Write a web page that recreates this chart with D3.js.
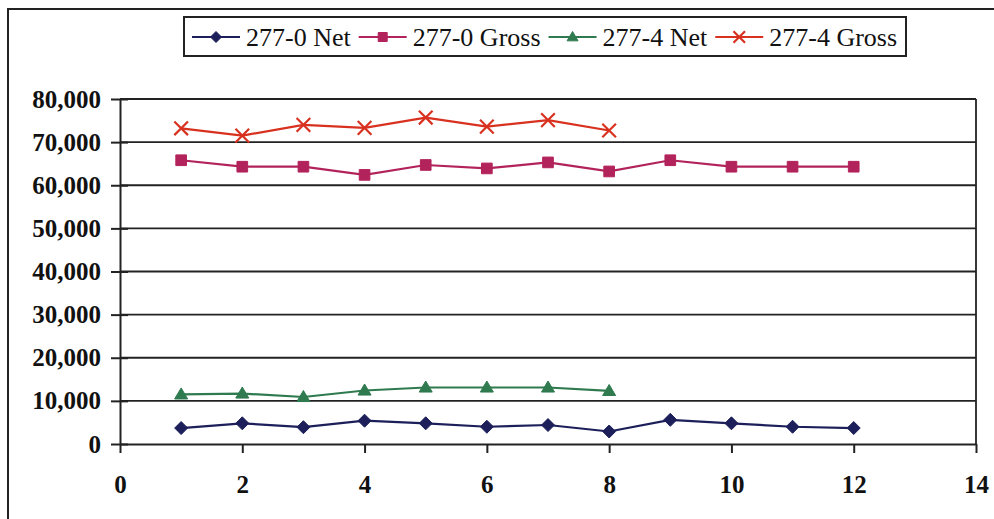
<!DOCTYPE html>
<html>
<head>
<meta charset="utf-8">
<script src="https://cdn.jsdelivr.net/npm/d3@7"></script>
<style>
  html, body { margin: 0; padding: 0; background: #fff; }
  svg { display: block; }
</style>
</head>
<body>
<svg id="chart" width="994" height="519"></svg>
<script>
// Sample numbers along the x axis
const samples0 = [1, 2, 3, 4, 5, 6, 7, 8, 9, 10, 11, 12];
const samples4 = [1, 2, 3, 4, 5, 6, 7, 8];

// Series values
const net0   = [3700, 4800, 3900, 5400, 4800, 4000, 4400, 2900, 5600, 4800, 4000, 3700];
const gross0 = [65800, 64300, 64300, 62400, 64700, 63900, 65300, 63200, 65800, 64300, 64300, 64300];
const net4   = [11500, 11700, 10900, 12400, 13100, 13100, 13100, 12300];
const gross4 = [73200, 71500, 74000, 73300, 75700, 73600, 75100, 72700];

// Axis ticks
const xTicks = [0, 2, 4, 6, 8, 10, 12, 14];
const yTicks = [0, 10000, 20000, 30000, 40000, 50000, 60000, 70000, 80000];

const FONT = '"Liberation Serif", "Times New Roman", serif';

const series = [
  { name: "277-0 Net",   xs: samples0, ys: net0,   color: "#1c1f5a", marker: "diamond" },
  { name: "277-0 Gross", xs: samples0, ys: gross0, color: "#b3235b", marker: "square" },
  { name: "277-4 Net",   xs: samples4, ys: net4,   color: "#2f7a4f", marker: "triangle" },
  { name: "277-4 Gross", xs: samples4, ys: gross4, color: "#d8311f", marker: "cross" }
];

const svg = d3.select("#chart");
const x = d3.scaleLinear().domain([0, 14]).range([120, 976]);
const y = d3.scaleLinear().domain([0, 80000]).range([444, 99]);

// Outer frame (left and top edges)
svg.append("path")
  .attr("d", "M8,519 L8,9 L994,9")
  .attr("fill", "none").attr("stroke", "#222").attr("stroke-width", 2);

// Horizontal gridlines
svg.append("g").selectAll("line").data(yTicks.filter(d => d > 0)).join("line")
  .attr("x1", x(0)).attr("x2", x(14))
  .attr("y1", d => y(d)).attr("y2", d => y(d))
  .attr("stroke", "#222").attr("stroke-width", 1.8);

// Right edge of the plot area
svg.append("line")
  .attr("x1", x(14)).attr("x2", x(14)).attr("y1", y(80000)).attr("y2", y(0))
  .attr("stroke", "#222").attr("stroke-width", 1.8);

// Y axis
const yAxis = d3.axisLeft(y).tickValues(yTicks)
  .tickFormat(d3.format(",")).tickSizeInner(9).tickSizeOuter(0).tickPadding(10);
const gy = svg.append("g").attr("transform", `translate(${x(0)},0)`).call(yAxis);
gy.selectAll(".domain, .tick line").attr("stroke", "#222").attr("stroke-width", 2);
gy.selectAll(".tick line").attr("x2", -9).attr("x1", 8);
gy.selectAll("text")
  .style("font-family", FONT)
  .style("font-size", "25px").style("font-weight", "bold").attr("fill", "#111");

// X axis
const xAxis = d3.axisBottom(x).tickValues(xTicks)
  .tickSizeInner(9).tickSizeOuter(0).tickPadding(22);
const gx = svg.append("g").attr("transform", `translate(0,${y(0)})`).call(xAxis);
gx.selectAll(".domain, .tick line").attr("stroke", "#222").attr("stroke-width", 2);
gx.selectAll("text")
  .style("font-family", FONT)
  .style("font-size", "25px").style("font-weight", "bold").attr("fill", "#111");

// Marker shapes, centred on the data point
function drawMarker(sel, type, color, size) {
  const h = size / 2;
  let d;
  if (type === "cross") {
    const s = h * 1.05;
    sel.append("path")
      .attr("d", `M${-s},${-s}L${s},${s}M${-s},${s}L${s},${-s}`)
      .attr("stroke", color).attr("stroke-width", 2.2).attr("fill", "none");
    return;
  }
  if (type === "diamond") d = `M0,${-h}L${h},0L0,${h}L${-h},0Z`;
  if (type === "square") { const q = h * 0.82; d = `M${-q},${-q}H${q}V${q}H${-q}Z`; }
  if (type === "triangle") d = `M0,${-h}L${h},${h * 0.7}L${-h},${h * 0.7}Z`;
  sel.append("path").attr("d", d)
    .attr("fill", color).attr("stroke", color).attr("stroke-width", 1);
}

const line = d3.line().x(d => x(d[0])).y(d => y(d[1]));

// Series lines and markers
series.forEach(s => {
  const pts = s.xs.map((v, i) => [v, s.ys[i]]);
  const g = svg.append("g");
  g.append("path").datum(pts).attr("d", line)
    .attr("fill", "none").attr("stroke", s.color).attr("stroke-width", 2.2);
  g.selectAll("g.m").data(pts).join("g").attr("class", "m")
    .attr("transform", d => `translate(${x(d[0])},${y(d[1])})`)
    .each(function () { drawMarker(d3.select(this), s.marker, s.color, 13); });
});

// Legend
const legend = svg.append("g");
legend.append("rect")
  .attr("x", 184).attr("y", 17).attr("width", 722).attr("height", 39)
  .attr("fill", "#fff").attr("stroke", "#222").attr("stroke-width", 2);
let lx = 192;
series.forEach(s => {
  const item = legend.append("g").attr("transform", `translate(${lx},37)`);
  item.append("line").attr("x1", 0).attr("x2", 48).attr("y1", 0).attr("y2", 0)
    .attr("stroke", s.color).attr("stroke-width", 2.2);
  const mk = item.append("g").attr("transform", "translate(24,0)");
  drawMarker(mk, s.marker, s.color, 11);
  const t = item.append("text").attr("x", 54).attr("y", 0).attr("dy", "0.35em")
    .style("font-family", FONT).style("font-size", "26px").attr("fill", "#111")
    .text(s.name);
  lx += 54 + t.node().getComputedTextLength() + 8;
});
</script>
</body>
</html>
